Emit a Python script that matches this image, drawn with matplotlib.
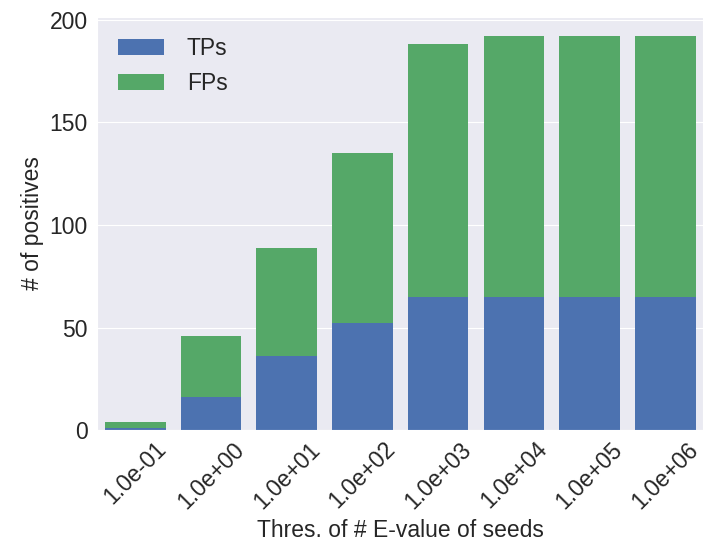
import matplotlib
matplotlib.use("Agg")
import matplotlib.pyplot as plt
import numpy as np
import seaborn as sns

# E-value thresholds for seeds and the positives found at each one
thresholds = ["1.0e-01", "1.0e+00", "1.0e+01", "1.0e+02",
              "1.0e+03", "1.0e+04", "1.0e+05", "1.0e+06"]
tps = [1, 16, 36, 52, 65, 65, 65, 65]
fps = [3, 30, 53, 83, 123, 127, 127, 127]

sns.set_style("darkgrid")
plt.rcParams['font.family'] = ['Liberation Sans', 'DejaVu Sans']
fs = 16.5

fig = plt.figure(figsize=(7.11, 5.41), dpi=100)
ax = fig.add_axes([0.137, 0.205, 0.852, 0.764])

x = np.arange(len(thresholds))
ax.bar(x, tps, width=0.8, color="#4C72B0", linewidth=0, label="TPs")
ax.bar(x, fps, width=0.8, bottom=tps, color="#55A868", linewidth=0, label="FPs")

ax.set_xlim(-0.5, len(thresholds) - 0.5)
ax.set_ylim(0, 201.5)
ax.set_yticks([0, 50, 100, 150, 200])
ax.set_xticks(x)
ax.set_xticklabels(thresholds, rotation=45, fontsize=fs)
ax.tick_params(axis='y', labelsize=fs)
ax.tick_params(axis='x', pad=2)
ax.grid(axis='x', visible=False)

ax.set_xlabel("Thres. of # E-value of seeds", fontsize=fs)
ax.set_ylabel("# of positives", fontsize=fs)
ax.legend(loc="upper left", fontsize=fs, frameon=False, handletextpad=1.0)

fig.savefig("out.png", dpi=100)
